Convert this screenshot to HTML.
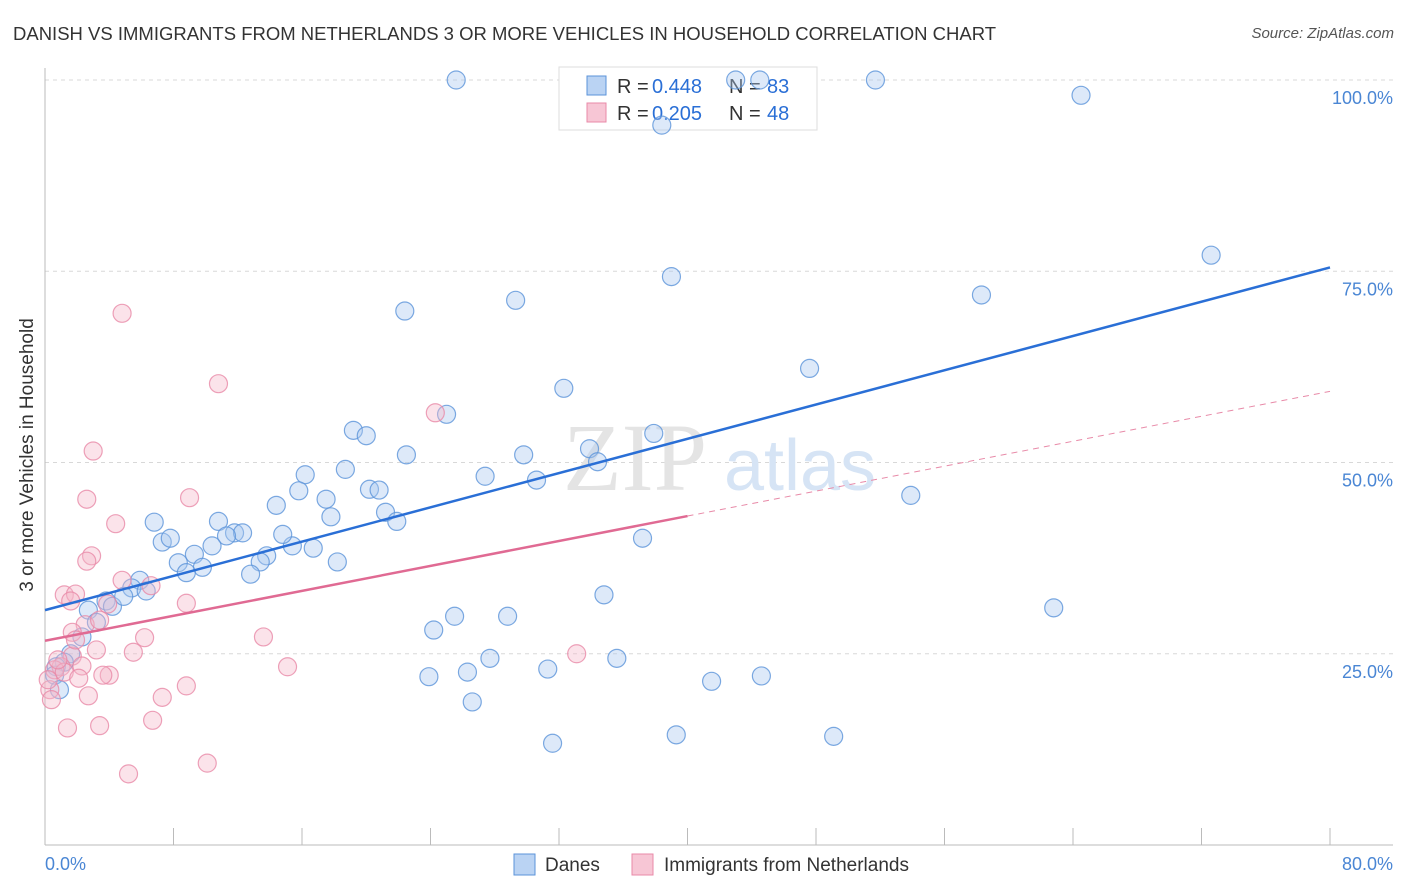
<!DOCTYPE html>
<html><head><meta charset="utf-8"><style>
body{margin:0;background:#fff;font-family:"Liberation Sans",sans-serif;}
#wrap{position:relative;width:1406px;height:892px;overflow:hidden;}
.t{position:absolute;white-space:nowrap;}
</style></head><body>
<div id="wrap">
<div class="t" style="left:13px;top:23px;font-size:18.5px;color:#333;">DANISH VS IMMIGRANTS FROM NETHERLANDS 3 OR MORE VEHICLES IN HOUSEHOLD CORRELATION CHART</div>
<div class="t" style="right:12px;top:25px;font-size:15px;color:#555;font-style:italic;">Source: ZipAtlas.com</div>
<div class="t" style="left:-122px;top:444px;font-size:19px;color:#333;transform:rotate(-90deg);transform-origin:center;width:300px;text-align:center;">3 or more Vehicles in Household</div>
<svg id="svg" width="1406" height="892" style="position:absolute;left:0;top:0"></svg>
</div>
<script>
const blueX=[25.6,43.0,44.5,51.7,64.5,38.4,72.6,39.0,58.3,29.3,22.4,47.6,32.3,25.0,19.2,20.0,37.9,33.9,22.5,29.8,34.4,18.7,16.2,27.4,30.6,15.8,20.2,20.8,17.5,53.9,14.4,21.2,17.8,21.9,6.8,10.8,7.3,7.8,11.8,12.3,11.3,10.4,15.4,14.8,16.7,9.3,13.8,13.4,37.2,8.3,9.8,8.8,12.8,18.2,5.9,5.4,6.3,3.8,4.2,4.9,2.7,3.2,2.3,34.8,62.8,25.5,28.8,24.2,1.6,1.2,0.7,0.6,0.9,27.7,35.6,26.3,31.3,23.9,41.5,44.6,26.6,31.6,39.3,49.1];
const blueY=[100,100,100,100,98.0,94.1,77.1,74.3,71.9,71.2,69.8,62.3,59.7,56.3,54.2,53.5,53.8,51.8,51.0,51.0,50.1,49.1,48.4,48.2,47.7,46.3,46.5,46.4,45.2,45.7,44.4,43.5,42.9,42.3,42.2,42.3,39.6,40.1,40.8,40.8,40.4,39.1,39.1,40.6,38.8,38.0,37.8,37.0,40.1,36.9,36.3,35.6,35.4,37.0,34.6,33.6,33.2,31.9,31.2,32.5,30.7,29.1,27.2,32.7,31.0,29.9,29.9,28.1,25.0,23.9,23.3,22.2,20.3,24.4,24.4,22.6,23.0,22.0,21.4,22.1,18.7,13.3,14.4,14.2];
const pinkX=[4.8,10.8,3.0,24.3,2.6,9.0,4.4,2.9,2.6,1.2,1.9,8.8,1.6,3.9,4.8,6.6,2.5,1.7,6.2,13.6,3.2,5.5,1.7,2.3,1.0,0.6,1.2,2.1,4.0,3.6,33.1,15.1,8.8,2.7,7.3,0.3,0.4,0.2,6.7,1.4,3.4,10.1,5.2,0.8,1.9,3.4];
const pinkY=[69.5,60.3,51.5,56.5,45.2,45.4,42.0,37.8,37.1,32.7,32.8,31.6,31.9,31.5,34.6,33.9,28.8,27.8,27.1,27.2,25.5,25.2,24.7,23.4,23.3,22.9,22.6,21.8,22.2,22.2,25.0,23.3,20.8,19.5,19.3,20.3,19.0,21.6,16.3,15.3,15.6,10.7,9.3,24.2,26.8,29.4];
const yTicks=[100,75,50,25];
const yTickLabels=["100.0%","75.0%","50.0%","25.0%"];
const blueTrend=[30.7,75.5];
const pinkTrend=[26.7,59.3];
const pinkSolidEnd=40;

const X0=45,X1=1330,Y0=845,Y100=80;
const sx=v=>X0+(X1-X0)*v/80;
const sy=v=>Y0-(Y0-Y100)*v/100;
const svg=document.getElementById('svg');
const NS='http://www.w3.org/2000/svg';
function mk(tag,attrs,parent){const e=document.createElementNS(NS,tag);for(const k in attrs)e.setAttribute(k,attrs[k]);(parent||svg).appendChild(e);return e;}

yTicks.forEach((t,i)=>{
  const l=mk('line',{x1:X0,x2:1393,y1:sy(t),y2:sy(t),stroke:'#d8d8d8','stroke-dasharray':'4,4'});
  
  
  const tx=mk('text',{x:1393,y:sy(t)+24,'text-anchor':'end','font-size':18,fill:'#4a86d4','font-family':'Liberation Sans'});
  tx.textContent=yTickLabels[i];
  
  
});
let a=mk('line',{x1:X0,x2:X0,y1:68,y2:Y0,stroke:'#bbb'});


a=mk('line',{x1:X0,x2:1393,y1:Y0,y2:Y0,stroke:'#bbb'});


for(let i=0;i<=10;i++){
  const v=i*8;
  const t=mk('line',{x1:sx(v),x2:sx(v),y1:828,y2:Y0,stroke:'#bbb'});
  
  
}
let w=mk('text',{x:635,y:490,'text-anchor':'middle','font-size':96,fill:'#e4e4e4','font-family':'Liberation Serif'});
w.textContent='ZIP';


w=mk('text',{x:800,y:490,'text-anchor':'middle','font-size':72,fill:'#d6e4f5','font-family':'Liberation Sans'});
w.textContent='atlas';



const lg=mk('g',{});


mk('rect',{x:559,y:67,width:258,height:63,fill:'#fff',stroke:'#ddd'},lg);
mk('rect',{x:587,y:76,width:19,height:19,fill:'#a9c8f0',stroke:'#5b93d9','fill-opacity':0.8},lg);
mk('rect',{x:587,y:103,width:19,height:19,fill:'#f5b8ca',stroke:'#e88aa8','fill-opacity':0.8},lg);
function lt(x,y,s,c,n){const t=mk('text',{x:x,y:y,'font-size':20,fill:c,'font-family':'Liberation Sans'},lg);t.textContent=s;}
lt(617,93,'R = ','#333','legend-r-label');lt(652,93,'0.448','#2a6fd6','legend-r-danes');
lt(729,93,'N = ','#333','legend-n-label');lt(767,93,'83','#2a6fd6','legend-n-danes');
lt(617,120,'R = ','#333','legend-r-label');lt(652,120,'0.205','#2a6fd6','legend-r-netherlands');
lt(729,120,'N = ','#333','legend-n-label');lt(767,120,'48','#2a6fd6','legend-n-netherlands');

function dots(xs,ys,fill,stroke,name){
  xs.forEach((x,i)=>{
    const c=mk('circle',{cx:sx(x),cy:sy(ys[i]),r:9,fill:fill,'fill-opacity':0.4,stroke:stroke,'stroke-opacity':0.8,'stroke-width':1.2});
    
    
  });
}
dots(blueX,blueY,'#a9c8f0','#5b93d9','danes-point');
dots(pinkX,pinkY,'#f5b8ca','#e88aa8','netherlands-point');

let tl=mk('line',{x1:sx(0),y1:sy(blueTrend[0]),x2:sx(80),y2:sy(blueTrend[1]),stroke:'#2a6fd6','stroke-width':2.5});


const pe=pinkTrend[0]+(pinkTrend[1]-pinkTrend[0])*pinkSolidEnd/80;
tl=mk('line',{x1:sx(0),y1:sy(pinkTrend[0]),x2:sx(pinkSolidEnd),y2:sy(pe),stroke:'#e06a93','stroke-width':2.5});


tl=mk('line',{x1:sx(pinkSolidEnd),y1:sy(pe),x2:sx(80),y2:sy(pinkTrend[1]),stroke:'#e88aa8','stroke-width':1,'stroke-dasharray':'6,5'});



let xl=mk('text',{x:45,y:870,'font-size':18,fill:'#4a86d4','font-family':'Liberation Sans'});xl.textContent='0.0%';


xl=mk('text',{x:1393,y:870,'text-anchor':'end','font-size':18,fill:'#4a86d4','font-family':'Liberation Sans'});xl.textContent='80.0%';



let br=mk('rect',{x:514,y:854,width:21,height:21,fill:'#a9c8f0',stroke:'#5b93d9','fill-opacity':0.8});


let bt=mk('text',{x:545,y:871,'font-size':19,fill:'#333','font-family':'Liberation Sans'});bt.textContent='Danes';


br=mk('rect',{x:632,y:854,width:21,height:21,fill:'#f5b8ca',stroke:'#e88aa8','fill-opacity':0.8});


bt=mk('text',{x:664,y:871,'font-size':19,fill:'#333','font-family':'Liberation Sans'});bt.textContent='Immigrants from Netherlands';


</script>
</body></html>
